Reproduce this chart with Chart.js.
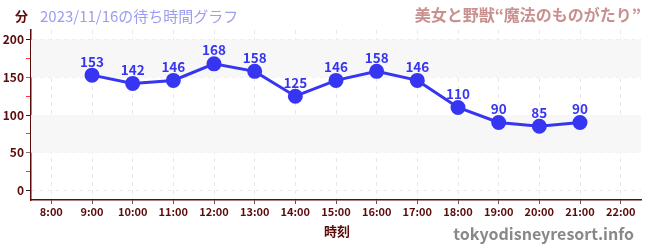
<!DOCTYPE html>
<html>
  <head>
    <meta charset="UTF-8" />
    <title>wait time chart</title>
    <script src="https://cdn.jsdelivr.net/npm/chart.js@4.4.1/dist/chart.umd.min.js"></script>
    <style>
      body { margin: 0; background: #fff; }
    </style>
  </head>
  <body>
    <canvas id="chart" width="650" height="250"></canvas>
    <script>
      const labels = ['8:00', '9:00', '10:00', '11:00', '12:00', '13:00', '14:00', '15:00', '16:00', '17:00', '18:00', '19:00', '20:00', '21:00', '22:00']
      const waits = [null, 153, 142, 146, 168, 158, 125, 146, 158, 146, 110, 90, 85, 90, null]
      const yTicks = [0, 50, 100, 150, 200]
      const bands = [[50, 100], [150, 200]]

      const maroon = '#5c0a0a'
      const blue = '#3636f2'
      const font = '"Noto Sans CJK JP", "Noto Sans", sans-serif'

      // 背景の帯とテキスト
      const decor = {
        id: 'decor',
        beforeDatasetsDraw(chart) {
          const { ctx, chartArea: a, scales: { y } } = chart
          ctx.save()
          ctx.fillStyle = '#f7f7f7'
          bands.forEach(b => {
            const top = y.getPixelForValue(b[1])
            const bot = y.getPixelForValue(b[0])
            ctx.fillRect(a.left, top, a.right - a.left, bot - top)
          })
          ctx.restore()
        },
        afterDatasetsDraw(chart) {
          const { ctx } = chart
          const meta = chart.getDatasetMeta(0)
          ctx.save()
          ctx.fillStyle = blue
          ctx.font = 'bold 13.5px ' + font
          ctx.textAlign = 'center'
          ctx.textBaseline = 'bottom'
          meta.data.forEach((p, i) => {
            if (waits[i] == null) return
            ctx.fillText(String(waits[i]), p.x, p.y - 7)
          })
          ctx.restore()
        },
        afterDraw(chart) {
          const { ctx } = chart
          ctx.save()
          ctx.textBaseline = 'middle'
          ctx.fillStyle = maroon
          ctx.font = 'bold 13px ' + font
          ctx.textAlign = 'left'
          ctx.fillText('分', 15, 16)
          ctx.fillStyle = '#9c9cf2'
          ctx.font = '15px ' + font
          ctx.fillText('2023/11/16の待ち時間グラフ', 40, 16)
          ctx.fillStyle = '#c99090'
          ctx.font = 'bold 16px ' + font
          ctx.textAlign = 'right'
          ctx.fillText('美女と野獣“魔法のものがたり”', 641, 15)
          ctx.fillStyle = maroon
          ctx.font = 'bold 13px ' + font
          ctx.textAlign = 'center'
          ctx.fillText('時刻', 337, 231)
          ctx.fillStyle = '#888888'
          ctx.font = 'bold 16px ' + font
          ctx.textAlign = 'right'
          ctx.fillText('tokyodisneyresort.info', 634, 234)
          ctx.restore()
        }
      }

      new Chart(document.querySelector('#chart').getContext('2d'), {
        type: 'line',
        data: {
          labels: labels,
          datasets: [{
            data: waits,
            borderColor: blue,
            backgroundColor: blue,
            borderWidth: 3,
            pointRadius: 6,
            pointHoverRadius: 6,
            tension: 0,
            spanGaps: false
          }]
        },
        options: {
          responsive: false,
          animation: false,
          layout: { padding: { top: 30, right: 9, left: 0, bottom: 0 } },
          plugins: { legend: { display: false }, tooltip: { enabled: false } },
          scales: {
            x: {
              offset: true,
              grid: {
                offset: false,
                color: '#e8e8e8',
                tickColor: '#555555',
                tickLength: 4
              },
              border: { color: maroon, width: 1.5, dash: [4, 4] },
              ticks: {
                color: maroon,
                font: { family: font, size: 11, weight: 'bold' },
                padding: 1,
                maxRotation: 0,
                autoSkip: false
              },
              afterFit(s) { s.height = 50 }
            },
            y: {
              min: -13,
              max: 213,
              afterBuildTicks(s) {
                s.ticks = [0, 25, 50, 75, 100, 125, 150, 175, 200].map(v => ({ value: v }))
              },
              grid: {
                color: c => yTicks.includes(c.tick.value) ? '#ececec' : 'rgba(0,0,0,0)',
                tickColor: c => {
                  const v = c.tick.value
                  if (v % 50 !== 0) return '#ff3333'
                  return (v / 50) % 2 === 0 ? '#222222' : '#777777'
                },
                tickLength: 5,
                lineWidth: 1
              },
              border: { color: maroon, width: 1.5, dash: [4, 4] },
              ticks: {
                color: maroon,
                font: { family: font, size: 12, weight: 'bold' },
                padding: 2,
                callback: v => yTicks.includes(v) ? String(v) : ''
              },
              afterFit(s) { s.width = 31 }
            }
          }
        },
        plugins: [decor]
      })
    </script>
  </body>
</html>
